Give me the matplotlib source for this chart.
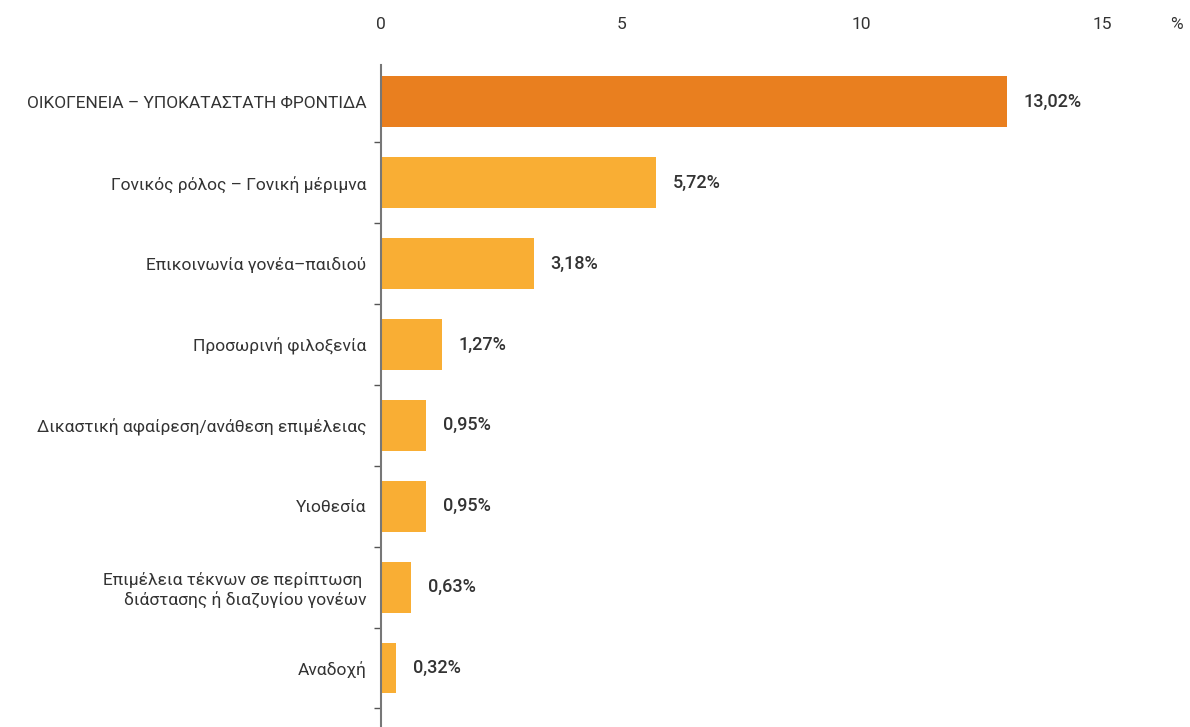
import matplotlib
matplotlib.use("Agg")
import matplotlib.pyplot as plt
import numpy as np

plt.rcParams["font.family"] = ["Roboto", "DejaVu Sans"]

categories = [
    "ΟΙΚΟΓΕΝΕΙΑ – ΥΠΟΚΑΤΑΣΤΑΤΗ ΦΡΟΝΤΙΔΑ",
    "Γονικός ρόλος – Γονική μέριμνα",
    "Επικοινωνία γονέα–παιδιού",
    "Προσωρινή φιλοξενία",
    "Δικαστική αφαίρεση/ανάθεση επιμέλειας",
    "Υιοθεσία",
    "Επιμέλεια τέκνων σε περίπτωση \nδιάστασης ή διαζυγίου γονέων",
    "Αναδοχή",
]
values = [13.02, 5.72, 3.18, 1.27, 0.95, 0.95, 0.63, 0.32]
value_labels = ["13,02%", "5,72%", "3,18%", "1,27%", "0,95%", "0,95%", "0,63%", "0,32%"]
x_ticks = [0, 5, 10, 15]

orange = "#E97F1F"
yellow = "#F9AE34"
text_col = "#333333"

fig = plt.figure(figsize=(11.9, 7.27), dpi=100)
ax = fig.add_axes([0.320, 0.0, 0.670, 0.9106])

y = np.arange(len(categories))
colors = [orange] + [yellow] * (len(categories) - 1)
ax.barh(y, values, height=0.63, color=colors, zorder=2)

for yi, v, lab in zip(y, values, value_labels):
    ax.text(v + 0.35, yi, lab, va="center", ha="left", fontsize=13,
            color=text_col, fontweight="medium")

ax.set_ylim(7.73, -0.457)
ax.set_xlim(0, 16.58)

ax.set_yticks(y)
ax.set_yticklabels(categories, fontsize=12.5, color=text_col)
ax.tick_params(axis="y", which="major", length=0, pad=10.5)
ax.set_yticks(np.arange(0.5, len(categories), 1), minor=True)
ax.tick_params(axis="y", which="minor", length=5, width=1, color="#555555")

ax.xaxis.tick_top()
ax.set_xticks(x_ticks)
ax.set_xticklabels([str(t) for t in x_ticks], fontsize=12.5, color=text_col)
ax.tick_params(axis="x", length=0, pad=24)
ax.annotate("%", xy=(16.55, 1.0), xycoords=("data", "axes fraction"),
            xytext=(0, 24), textcoords="offset points", fontsize=12.5,
            color=text_col, ha="center", va="bottom")

for s in ["top", "right", "bottom"]:
    ax.spines[s].set_visible(False)
ax.spines["left"].set_color("#777777")
ax.spines["left"].set_linewidth(1.5)

fig.savefig("out.png", dpi=100)
